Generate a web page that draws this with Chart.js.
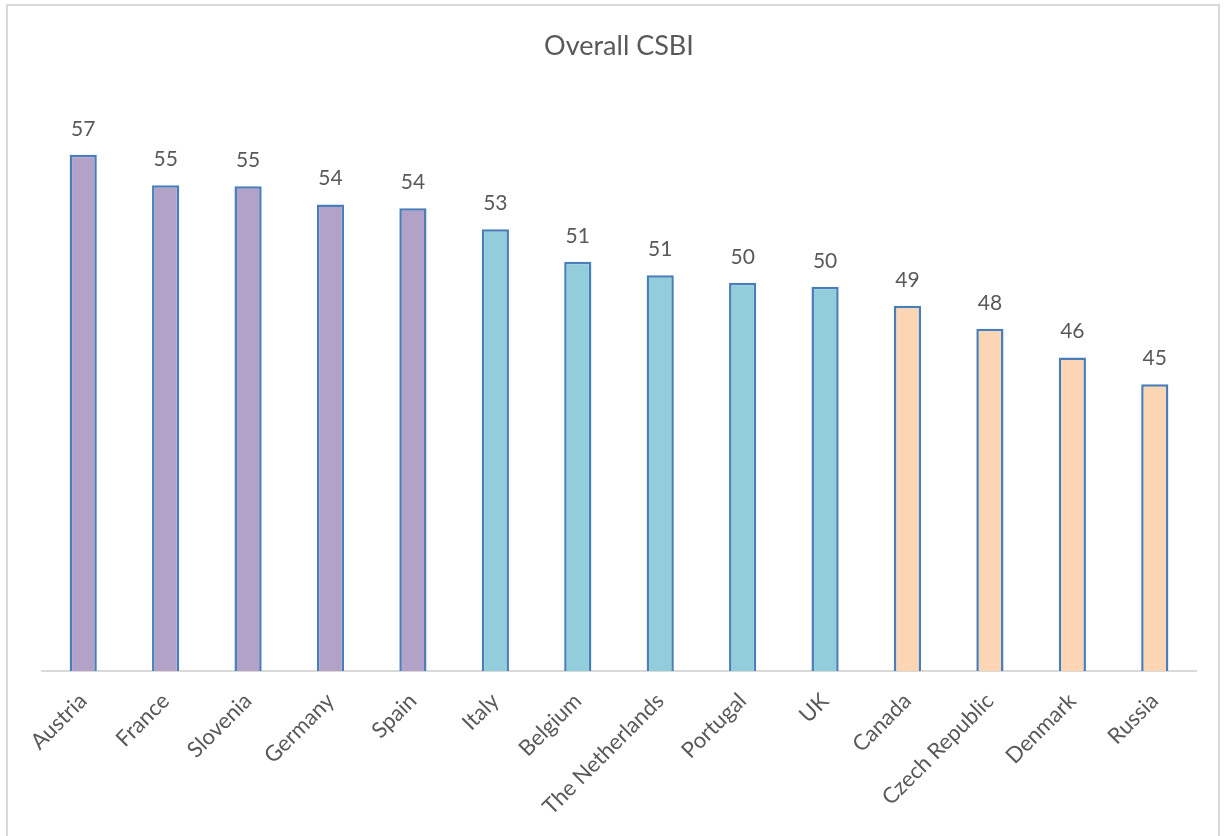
<!DOCTYPE html>
<html>
<head>
<meta charset="utf-8">
<title>Overall CSBI</title>
<script src="https://cdn.jsdelivr.net/npm/chart.js@4"></script>
<style>
  html, body { margin: 0; padding: 0; background: #fff; overflow: hidden; }
  #frame {
    position: absolute; left: 6px; top: 4px; width: 1214px; height: 900px;
    border: 2px solid #d9d9d9; box-sizing: border-box;
  }
  #wrap { position: absolute; left: 0; top: 0; width: 1226px; height: 836px; }
</style>
</head>
<body>
<div id="frame"></div>
<div id="wrap"><canvas id="csbiChart"></canvas></div>
<script>
const countries = ['Austria', 'France', 'Slovenia', 'Germany', 'Spain', 'Italy', 'Belgium',
    'The Netherlands', 'Portugal', 'UK', 'Canada', 'Czech Republic', 'Denmark', 'Russia'];
const csbiValues = [57.0, 55.4, 55.35, 54.4, 54.2, 53.1, 51.4, 50.7, 50.3, 50.1, 49.1, 47.9, 46.4, 45.0];
// 0 = top group, 1 = middle group, 2 = bottom group
const groups = [0, 0, 0, 0, 0, 1, 1, 1, 1, 1, 2, 2, 2, 2];

const groupFill = ['#b3a2c7', '#92cddc', '#fcd5b5'];
const textColor = '#595959';
const fontFamily = 'Lato, "Open Sans", sans-serif';

// value labels above each bar
const valueLabels = {
    id: 'valueLabels',
    afterDatasetsDraw(chart) {
        const c = chart.ctx;
        const meta = chart.getDatasetMeta(0);
        c.save();
        c.fillStyle = textColor;
        c.font = '21px ' + fontFamily;
        c.textAlign = 'center';
        c.textBaseline = 'alphabetic';
        meta.data.forEach((bar, i) => {
            c.fillText(Math.round(csbiValues[i]), bar.x, bar.y - 19);
        });
        c.restore();
    }
};

new Chart(document.getElementById('csbiChart'), {
    type: 'bar',
    data: {
        labels: countries,
        datasets: [{
            data: csbiValues,
            backgroundColor: groups.map(g => groupFill[g]),
            borderColor: '#4a7ebb',
            borderWidth: 2.5,
            borderSkipped: false,
            barPercentage: 0.33,
            categoryPercentage: 1
        }]
    },
    options: {
        responsive: true,
        maintainAspectRatio: false,
        animation: false,
        layout: {
            padding: { left: 42, right: 30, top: 0, bottom: 0 }
        },
        plugins: {
            legend: { display: false },
            tooltip: { enabled: false },
            title: {
                display: true,
                text: 'Overall CSBI',
                color: textColor,
                font: { family: fontFamily, size: 27, weight: 'normal' },
                padding: { top: 30, bottom: 35 }
            }
        },
        scales: {
            y: {
                display: false,
                min: 30,
                max: 60
            },
            x: {
                grid: { display: false },
                border: { display: true, color: '#d9d9d9', width: 2 },
                ticks: {
                    color: textColor,
                    font: { family: fontFamily, size: 22 },
                    minRotation: 45,
                    maxRotation: 45,
                    autoSkip: false,
                    padding: 9
                },
                afterFit(scale) { scale.height = 165; }
            }
        }
    },
    plugins: [valueLabels]
});
</script>
</body>
</html>
